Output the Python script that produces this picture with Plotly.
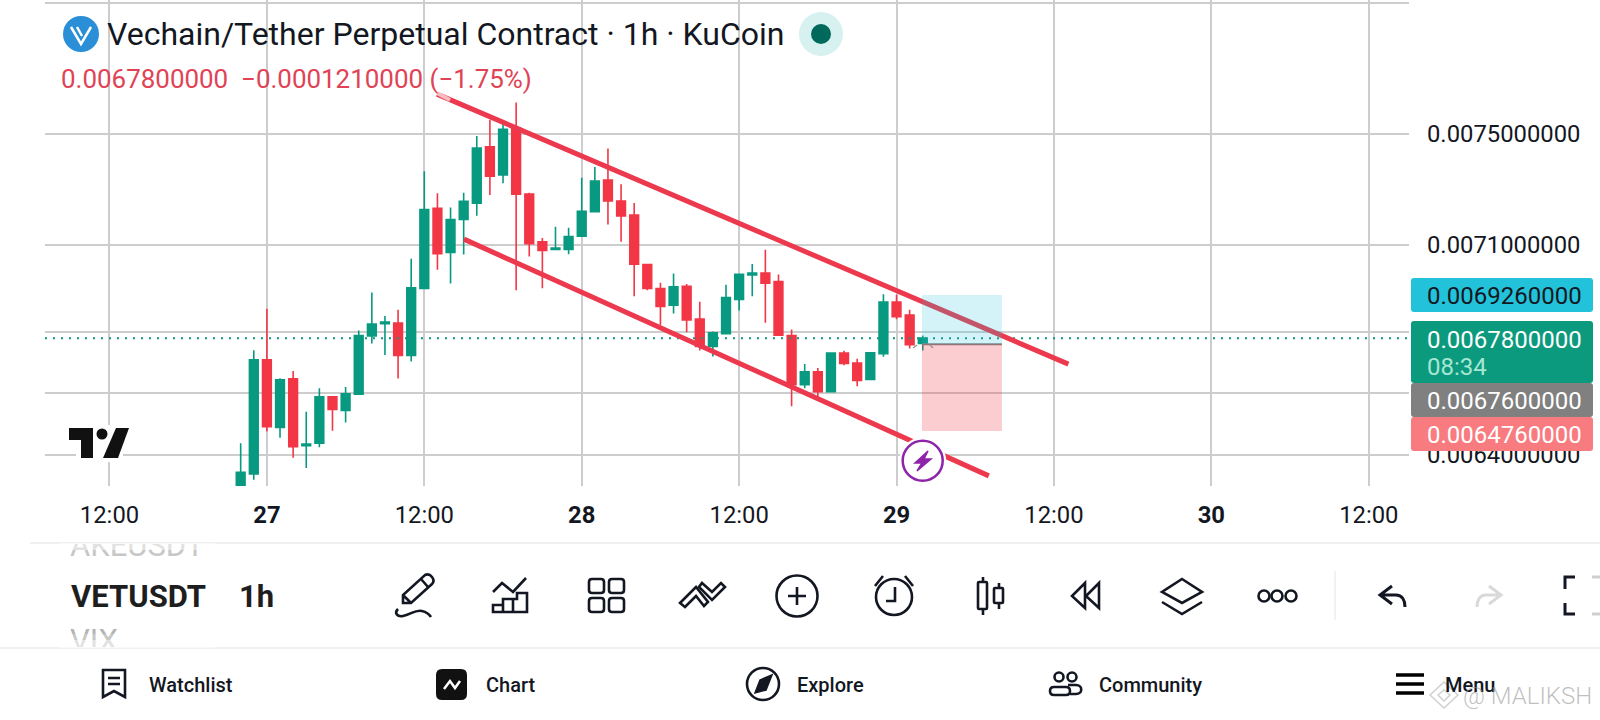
# candles and drawings for the VETUSDT 1h chart, plus the app toolbar round it
import pandas as pd
import plotly.graph_objects as go

# candle values, one per hour
candle_times = pd.date_range("2025-01-26 22:00", periods=53, freq="h")
open_prices = [
    0.00629, 0.00634, 0.006708, 0.006487, 0.006645, 0.006429, 0.006437, 0.006586, 0.006542, 0.006595,
    0.006787, 0.006829, 0.006831, 0.006722, 0.006949, 0.007229, 0.007073, 0.00719, 0.007248, 0.007452,
    0.007349, 0.007522, 0.00728, 0.007111, 0.007084, 0.007084, 0.00713, 0.007217, 0.007331, 0.007255,
    0.007205, 0.007031, 0.006948, 0.006891, 0.006956, 0.006844, 0.006752, 0.006795, 0.006911, 0.006995,
    0.007002, 0.006972, 0.006789, 0.006626, 0.006668, 0.006603, 0.00673, 0.006697, 0.006643, 0.006728,
    0.006902, 0.006858, 0.006762,
]
high_prices = [
    0.006437, 0.00674, 0.006879, 0.006647, 0.006671, 0.006538, 0.006614, 0.006588, 0.006618, 0.006806,
    0.006935, 0.006855, 0.006876, 0.007051, 0.007363, 0.007283, 0.007232, 0.007285, 0.007492, 0.007553,
    0.007541, 0.007617, 0.007285, 0.007124, 0.007164, 0.00716, 0.007339, 0.007378, 0.007446, 0.007316,
    0.007248, 0.007033, 0.006968, 0.007, 0.006964, 0.006903, 0.006802, 0.006961, 0.006999, 0.007033,
    0.007083, 0.006997, 0.006809, 0.006694, 0.006681, 0.00673, 0.006738, 0.006711, 0.006734, 0.006929,
    0.006927, 0.006876, 0.006789,
]
low_prices = [
    0.00627, 0.006322, 0.006474, 0.006454, 0.006391, 0.006359, 0.006424, 0.006477, 0.006503, 0.006595,
    0.006762, 0.006724, 0.006646, 0.006702, 0.006949, 0.007013, 0.006966, 0.007066, 0.007203, 0.007277,
    0.007319, 0.006942, 0.007059, 0.006949, 0.007084, 0.007067, 0.00713, 0.007217, 0.007172, 0.007111,
    0.006922, 0.006942, 0.006824, 0.006863, 0.0068, 0.006739, 0.006719, 0.006795, 0.006873, 0.006922,
    0.006832, 0.00679, 0.006556, 0.006614, 0.006574, 0.006603, 0.00669, 0.006621, 0.006643, 0.006718,
    0.006844, 0.006745, 0.006739,
]
close_prices = [
    0.006345, 0.006708, 0.00649, 0.006642, 0.006426, 0.006434, 0.006586, 0.006545, 0.006596, 0.006789,
    0.006827, 0.006834, 0.006722, 0.006951, 0.007225, 0.007069, 0.007189, 0.007254, 0.007448, 0.007345,
    0.007517, 0.00728, 0.007104, 0.00708, 0.007089, 0.007129, 0.007219, 0.007327, 0.007256, 0.007202,
    0.007032, 0.006949, 0.006887, 0.006954, 0.006841, 0.006752, 0.006798, 0.006917, 0.006997, 0.007002,
    0.006967, 0.00679, 0.006626, 0.006668, 0.006603, 0.00673, 0.006696, 0.00664, 0.006731, 0.006902,
    0.006852, 0.006758, 0.00678,
]

# axis ticks
y_ticks = [0.008, 0.0075, 0.0071, 0.0068, 0.0066, 0.0064]
y_labels = ["0.0080000000", "0.0075000000", "0.0071000000", "0.0068000000", "0.0066000000", "0.0064000000"]
x_ticks = ["2025-01-26 12:00", "2025-01-27 00:00", "2025-01-27 12:00", "2025-01-28 00:00", "2025-01-28 12:00",
           "2025-01-29 00:00", "2025-01-29 12:00", "2025-01-30 00:00", "2025-01-30 12:00"]
x_labels = ["12:00", "<b>27</b>", "12:00", "<b>28</b>", "12:00", "<b>29</b>", "12:00", "<b>30</b>", "12:00"]

# drawings on the chart
channel_top_times = ["2025-01-27 12:58", "2025-01-29 13:06"]
channel_top_prices = [0.007649, 0.0066935]
channel_bottom_times = ["2025-01-27 15:01", "2025-01-29 07:02"]
channel_bottom_prices = [0.00712, 0.006334]
zone_times = ["2025-01-29 01:56", "2025-01-29 08:02"]
target_price = 0.006926
entry_price = 0.00676
stop_price = 0.006476
last_price = 0.00678

# Set colors
up = "#089981"
down = "#F23645"
ink = "#131722"
grid = "#CDCDCD"

fig = go.Figure()

fig.add_trace(go.Candlestick(
    x=candle_times, open=open_prices, high=high_prices, low=low_prices, close=close_prices,
    increasing=dict(line=dict(color=up, width=1.6), fillcolor=up),
    decreasing=dict(line=dict(color=down, width=1.6), fillcolor=down),
    whiskerwidth=0, showlegend=False,
))

# position zones and last price line
fig.add_shape(type="rect", x0=zone_times[0], x1=zone_times[1], y0=entry_price, y1=target_price,
              xref="x", yref="y", fillcolor="rgba(34,195,218,0.2)", line_width=0, layer="above")
fig.add_shape(type="rect", x0=zone_times[0], x1=zone_times[1], y0=stop_price, y1=entry_price,
              xref="x", yref="y", fillcolor="rgba(242,54,69,0.25)", line_width=0, layer="above")
fig.add_trace(go.Scatter(x=zone_times, y=[entry_price, entry_price], mode="lines",
                         line=dict(color="#808080", width=2), showlegend=False))
fig.add_trace(go.Scatter(x=["2025-01-26 07:05", "2025-01-30 15:04"], y=[last_price, last_price],
                         mode="lines", line=dict(color=up, width=2, dash="2px,6px"), showlegend=False))

# channel lines
for times, prices in [(channel_top_times, channel_top_prices), (channel_bottom_times, channel_bottom_prices)]:
    fig.add_trace(go.Scatter(x=times, y=prices, mode="lines", line=dict(color="#EC394E", width=5), showlegend=False))

# overlay axes in screen pixels, for the app chrome
fig.add_trace(go.Scatter(x=[None], y=[None], xaxis="x2", yaxis="y2", showlegend=False))

# clipped list of symbols next to the toolbar
fig.add_trace(go.Scatter(x=[70, 70], y=[5, 100], xaxis="x3", yaxis="y3", mode="text",
                         text=["AKEUSDT", "VIX"], textposition="middle right", cliponaxis=True,
                         textfont=dict(family="Roboto", size=31, color="#B4B4B4"), showlegend=False))


def icon(path, color="#131722", width=2.6, fill=None):
    fig.add_shape(type="path", path=path, xref="x2", yref="y2", layer="above",
                  line=dict(color=color, width=width), fillcolor=fill)


def circle(cx, cy, r, color="#131722", width=2.6, fill=None):
    fig.add_shape(type="circle", x0=cx - r, x1=cx + r, y0=cy - r, y1=cy + r, xref="x2", yref="y2", layer="above",
                  line=dict(color=color, width=width), fillcolor=fill)


def box(x0, y0, x1, y1, r, color="#131722", width=2.6, fill=None):
    icon(f"M{x0 + r} {y0} L{x1 - r} {y0} Q{x1} {y0} {x1} {y0 + r} L{x1} {y1 - r} Q{x1} {y1} {x1 - r} {y1} "
         f"L{x0 + r} {y1} Q{x0} {y1} {x0} {y1 - r} L{x0} {y0 + r} Q{x0} {y0} {x0 + r} {y0} Z", color, width, fill)


def label(x, y, text, size=24, color=ink, anchor="left", weight=None):
    fig.add_annotation(x=x, y=y, xref="x2", yref="y2", text=text, showarrow=False, xanchor=anchor, yanchor="middle",
                       font=dict(family="Roboto", size=size, color=color, weight=weight))


# price pills on the right
for top, bottom, color in [(278, 312, "#22C3DA"), (321, 383, "#0B9A7D"), (383, 417, "#808080"), (417, 451, "#F87B80")]:
    box(1411, top, 1593, bottom, 3, color, 0, color)
label(1425, 296, "0.0069260000", color=ink)
label(1425, 340, "0.0067800000", color="white")
label(1425, 367, "08:34", color="#A6E6D3")
label(1425, 401, "0.0067600000", color="white")
label(1425, 435, "0.0064760000", color="white")

# header
circle(81, 34, 18, "#2A8FD6", 0, "#2A8FD6")
icon("M71 27 L81 44 L91 27 M77 27 L82 36", "white", 2.5)
label(105, 34, "Vechain/Tether Perpetual Contract · 1h · KuCoin", size=32)
circle(821, 34, 22, "#D6F1EF", 0, "#D6F1EF")
circle(821, 34, 10, "#00695C", 0, "#00695C")
label(59, 79, "0.0067800000  −0.0001210000 (−1.75%)", size=25.95, color="#E04355")

# trading view logo with its white halo
fig.add_shape(type="rect", x0=76, x1=123, y0=425, y1=462, xref="x2", yref="y2", layer="above",
              fillcolor="white", line_width=0)
icon("M69 428 L93 428 L93 458 L81 458 L81 440 L69 440 Z", "black", 0, "#111111")
circle(102, 434, 5.5, "black", 0, "#111111")
icon("M116 428 L129 428 L118 458 L103 458 Z", "black", 0, "#111111")

# lighter handle at the start of the channel line, and the lightning marker
icon("M437 93 L450 100", "rgba(255,255,255,0.65)", 4)
circle(922.7, 460.7, 23.5, "white", 0, "white")
circle(922.7, 460.7, 20, "#8E24AA", 2.5, "white")
icon("M928 451 L915 463 L922 463 L917 471 L931 459 L924 459 Z", "#8E24AA", 1.5, "#8E24AA")
icon("M913 348 L917 345 M930 345 L933 348", "#999999", 1.5)

# dividers
icon("M30 543 L1600 543", "#F0F0F0", 2)
icon("M0 648 L1600 648", "#F0F0F0", 2)
icon("M1335 571 L1335 620", "#EEEEEE", 1.5)

# fade on the symbol list
for y0, y1, alpha in [(543, 550, 0.6), (550, 556, 0.25), (640, 648, 0.6), (634, 640, 0.25)]:
    fig.add_shape(type="rect", x0=60, x1=215, y0=y0, y1=y1, xref="x2", yref="y2", layer="above",
                  fillcolor=f"rgba(255,255,255,{alpha})", line_width=0)
label(69, 596, "VETUSDT", size=31, color="#1E1E1E", weight="bold")
label(237, 596, "1h", size=31, color="#1E1E1E", weight="bold")
for x0, x1, alpha in [(186, 192, 0.2), (192, 198, 0.45), (198, 206, 0.75)]:
    fig.add_shape(type="rect", x0=x0, x1=x1, y0=580, y1=612, xref="x2", yref="y2", layer="above",
                  fillcolor=f"rgba(255,255,255,{alpha})", line_width=0)

# toolbar icons
icon("M403 603 L403 595 L425 575 Q429 573 432 577 Q435 581 432 584 L411 603 Z M403 595 L411 603 M421 579 L428 587")
icon("M398 609 C394 613 397 617 403 616 C410 615 416 609 422 611 C426 612 429 614 431 617")
icon("M493 592 L502 583 L513 592 L526 578")
icon("M493 612 L493 605 L503 605 L503 599 L517 599 L517 593 L527 593 L527 612 Z M503 605 L503 612 M513 599 L513 612")
for x0, y0 in [(589, 579), (609, 579), (589, 598), (609, 598)]:
    box(x0, y0, x0 + 15, y0 + 14, 3)
icon("M680 603 L696 587 L708 602 L704 606 L696 596 L685 607 Z")
icon("M702 583 L712 592 L721 583 L725 587 L712 600 L699 587 Z")
circle(797, 596, 20.5)
icon("M788 596 L806 596 M797 587 L797 605")
circle(894, 597, 18)
icon("M875 586 L883 576 M913 586 L905 576 M895 587 L895 601 L886 601")
icon("M983 577 L983 582 M983 609 L983 615 M999 583 L999 588 M999 603 L999 609")
box(978, 582, 987, 609, 1)
box(994, 588, 1003, 603, 1)
icon("M1085 583 L1072 596 L1085 608 Z M1099 583 L1086 596 L1099 608 Z")
icon("M1182 579 L1202 592 L1182 603 L1162 592 Z M1162 602 L1182 614 L1202 602")
for cx in [1264, 1277, 1291]:
    circle(cx, 596, 5.5)
icon("M1392 586 L1380 595 L1392 604 M1381 595 L1396 595 C1402 595 1405 600 1405 607", width=3)
icon("M1489 586 L1501 595 L1489 604 M1500 595 L1486 595 C1480 595 1477 600 1477 607", "#D9D9D9", 3)
icon("M1575 577 L1565 577 L1565 589 M1565 603 L1565 614 L1575 614", width=3)
icon("M1592 577 L1600 577 M1592 614 L1600 614", "#CFCFCF", 3)

# bottom navigation
icon("M103 670 L125 670 L125 697 L114 691 L103 697 Z M108 678 L120 678 M108 684 L120 684")
label(147, 685, "Watchlist", size=20, weight=500)
box(436, 669, 467, 700, 6, "#111111", 0, "#111111")
icon("M444 689 L450 681 L455 688 L460 681", "white", 2.5)
label(484, 685, "Chart", size=20, weight=500)
circle(763, 684, 16)
icon("M772 675 L766 690 L755 693 L760 680 Z", width=1.5, fill="#131722")
label(795, 685, "Explore", size=20, weight=500)
circle(1059, 677, 4.5)
circle(1072, 677, 4.5)
box(1050, 687, 1070, 695, 4)
icon("M1068 685 L1076 685 C1083 685 1083 694 1076 694 L1070 694")
label(1097, 685, "Community", size=20, weight=500)
icon("M1396 675 L1424 675 M1396 684 L1424 684 M1396 693 L1424 693", "black", 3.5)
label(1443, 685, "Menu", size=20, weight=500)

# watermark
icon("M1444 682 L1458 695 L1444 708 L1430 695 Z M1444 690 L1450 695 L1444 701 L1438 695 Z", "rgba(170,170,170,0.55)", 1.5)
label(1461, 696, "@ MALIKSH", size=24, color="rgba(150,150,150,0.6)", weight=300)

fig.update_layout(
    width=1600,
    height=720,
    margin=dict(l=0, r=0, t=0, b=0),
    paper_bgcolor="white",
    plot_bgcolor="rgba(0,0,0,0)",
    boxgap=0.05,
    showlegend=False,
    xaxis=dict(
        type="date", domain=[45 / 1600, 1409 / 1600], range=["2025-01-26 07:05", "2025-01-30 15:04"],
        tickmode="array", tickvals=x_ticks, ticktext=x_labels, ticklabelstandoff=12,
        tickfont=dict(family="Roboto", size=23.8, color=ink),
        showgrid=True, gridcolor=grid, gridwidth=1.6, zeroline=False, showline=False, ticks="",
        rangeslider=dict(visible=False), anchor="y", fixedrange=True,
    ),
    yaxis=dict(
        type="log", domain=[(720 - 486) / 720, 1], range=[-2.2005, -2.0962], side="right",
        tickmode="array", tickvals=y_ticks, ticktext=y_labels, ticklabelstandoff=17,
        tickfont=dict(family="Roboto", size=23.8, color=ink),
        showgrid=True, gridcolor=grid, gridwidth=1.6, zeroline=False, showline=False, ticks="",
        anchor="x", fixedrange=True,
    ),
    xaxis2=dict(domain=[0, 1], range=[0, 1600], visible=False, anchor="y2", fixedrange=True),
    yaxis2=dict(domain=[0, 1], range=[720, 0], visible=False, anchor="x2", fixedrange=True),
    xaxis3=dict(domain=[0, 1], range=[0, 1600], visible=False, anchor="y3", fixedrange=True),
    yaxis3=dict(domain=[(720 - 648) / 720, (720 - 543) / 720], range=[105, 0], visible=False, anchor="x3", fixedrange=True),
)

fig.write_html("out.html", config=dict(displayModeBar=False), post_script="document.body.style.margin='0';")
